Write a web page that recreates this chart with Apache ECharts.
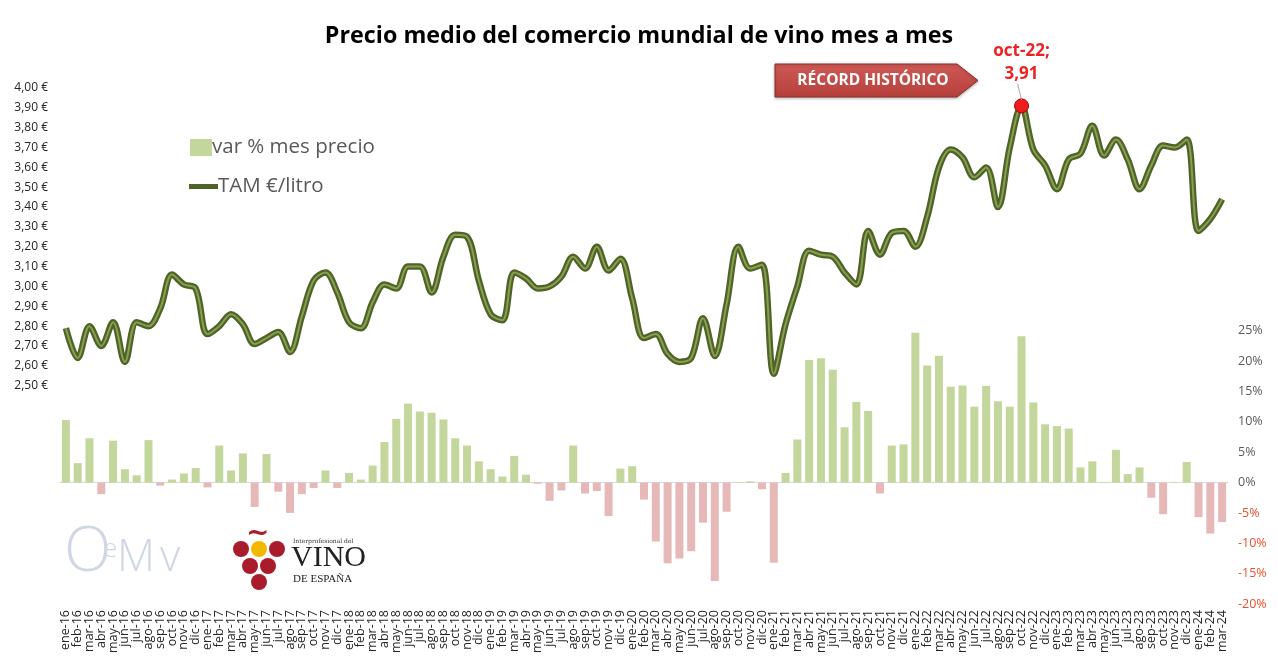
<!DOCTYPE html>
<html><head><meta charset="utf-8">
<script src="https://cdn.jsdelivr.net/npm/echarts@6/dist/echarts.min.js"></script>
<style>html,body{margin:0;padding:0;background:#fff}#c{width:1278px;height:662px}</style>
</head><body><div id="c"></div>
<script>
const categories = [
'ene-16','feb-16','mar-16','abr-16','may-16','jun-16','jul-16','ago-16','sep-16','oct-16','nov-16','dic-16',
'ene-17','feb-17','mar-17','abr-17','may-17','jun-17','jul-17','ago-17','sep-17','oct-17','nov-17','dic-17',
'ene-18','feb-18','mar-18','abr-18','may-18','jun-18','jul-18','ago-18','sep-18','oct-18','nov-18','dic-18',
'ene-19','feb-19','mar-19','abr-19','may-19','jun-19','jul-19','ago-19','sep-19','oct-19','nov-19','dic-19',
'ene-20','feb-20','mar-20','abr-20','may-20','jun-20','jul-20','ago-20','sep-20','oct-20','nov-20','dic-20',
'ene-21','feb-21','mar-21','abr-21','may-21','jun-21','jul-21','ago-21','sep-21','oct-21','nov-21','dic-21',
'ene-22','feb-22','mar-22','abr-22','may-22','jun-22','jul-22','ago-22','sep-22','oct-22','nov-22','dic-22',
'ene-23','feb-23','mar-23','abr-23','may-23','jun-23','jul-23','ago-23','sep-23','oct-23','nov-23','dic-23',
'ene-24','feb-24','mar-24'];

// TAM €/litro
const tamEuroLitro = [
2.79,2.64,2.80,2.70,2.82,2.62,2.82,2.80,2.89,3.06,3.01,2.99,
2.76,2.80,2.86,2.81,2.71,2.74,2.77,2.67,2.85,3.03,3.07,2.97,
2.82,2.79,2.92,3.01,2.99,3.10,3.10,2.97,3.15,3.26,3.25,3.03,
2.86,2.83,3.07,3.04,2.99,3.00,3.05,3.15,3.09,3.20,3.08,3.14,
2.94,2.74,2.76,2.66,2.62,2.64,2.84,2.65,2.91,3.20,3.09,3.11,
2.56,2.81,3.00,3.18,3.16,3.15,3.07,3.01,3.28,3.16,3.27,3.28,
3.20,3.35,3.60,3.69,3.65,3.55,3.60,3.40,3.70,3.91,3.69,3.61,
3.49,3.64,3.67,3.81,3.66,3.74,3.64,3.49,3.61,3.71,3.70,3.74,
3.28,3.34,3.44];

// var % mes precio
const varMesPrecio = [
10.3,3.2,7.3,-1.9,6.9,2.2,1.2,7.0,-0.5,0.5,1.5,2.4,
-0.8,6.1,2.0,4.8,-4.0,4.7,-1.5,-5.0,-1.9,-0.9,2.0,-0.9,
1.6,0.5,2.8,6.7,10.5,13.0,11.7,11.5,10.4,7.3,6.1,3.5,
2.2,1.0,4.4,1.3,-0.2,-3.0,-1.3,6.1,-1.8,-1.4,-5.5,2.3,
2.7,-2.8,-9.7,-13.3,-12.5,-11.3,-6.6,-16.2,-4.8,0.1,0.2,-1.1,
-13.2,1.6,7.1,20.2,20.5,18.6,9.1,13.3,11.8,-1.8,6.1,6.3,
24.7,19.3,20.9,15.8,16.0,12.5,15.9,13.4,12.5,24.1,13.2,9.6,
9.3,8.9,2.5,3.5,0.1,5.4,1.4,2.5,-2.5,-5.2,0.1,3.4,
-5.7,-8.4,-6.5];

const leftAxisMin = 1.4, leftAxisMax = 4.0, leftAxisStep = 0.1, leftAxisFirstLabel = 2.5;
const rightAxisMin = -20, rightAxisMax = 65, rightAxisStep = 5, rightAxisLastLabel = 25;

const FONT = "'Open Sans', 'Noto Sans', sans-serif";
const GREEN = '#c3d69b', PINK = '#e6b9b8', OLIVE = '#4f6228', OLIVE_IN = '#86a04e';
const recordIndex = tamEuroLitro.indexOf(Math.max.apply(null, tamEuroLitro));
const fmtEuro = v => v.toFixed(2).replace('.', ',');

const chart = echarts.init(document.getElementById('c'));
chart.setOption({
  backgroundColor: '#ffffff',
  animation: false,
  title: {
    text: 'Precio medio del comercio mundial de vino mes a mes',
    left: 'center', top: 20,
    textStyle: { fontFamily: FONT, fontSize: 23.3, fontWeight: 'bold', color: '#000' }
  },
  legend: [
    { data: [{ name: 'var % mes precio', icon: 'rect', itemStyle: { color: GREEN } }], left: 185, top: 132,
      itemWidth: 22, itemHeight: 17, itemGap: 4,
      textStyle: { fontFamily: FONT, fontSize: 20.5, color: '#595959', padding: [0,0,0,-5] } },
    { data: [{ name: 'TAM €/litro', icon: 'rect', itemStyle: { color: OLIVE } }], left: 184, top: 171,
      itemWidth: 29, itemHeight: 5,
      textStyle: { fontFamily: FONT, fontSize: 20.5, color: '#595959', padding: [0,0,0,-5] } }
  ],
  grid: { left: 60, right: 50, top: 88, bottom: 58 },
  xAxis: {
    type: 'category', data: categories, boundaryGap: true,
    axisLine: { show: true, lineStyle: { color: '#d9d9d9', width: 1 } },
    axisTick: { show: false },
    axisLabel: { interval: 0, rotate: 90, fontFamily: FONT, fontSize: 12.5, color: '#262626', margin: 6 }
  },
  yAxis: [
    { type: 'value', min: leftAxisMin, max: leftAxisMax, interval: leftAxisStep, position: 'left',
      axisLine: { show: false }, axisTick: { show: false }, splitLine: { show: false },
      axisLabel: { fontFamily: FONT, fontSize: 12, color: '#262626', margin: 12,
        formatter: v => v >= leftAxisFirstLabel - 0.001 ? fmtEuro(v) + ' €' : '' } },
    { type: 'value', min: rightAxisMin, max: rightAxisMax, interval: rightAxisStep, position: 'right',
      axisLine: { show: false }, axisTick: { show: false }, splitLine: { show: false },
      axisLabel: { fontFamily: FONT, fontSize: 12.5, margin: 10,
        formatter: v => v > rightAxisLastLabel + 0.001 ? '' : (v < 0 ? '{n|' + Math.round(v) + '%}' : '{p|' + Math.round(v) + '%}'),
        rich: { n: { color: '#e8502c', fontFamily: FONT, fontSize: 12.5 }, p: { color: '#595959', fontFamily: FONT, fontSize: 12.5 } } } }
  ],
  series: [
    { name: 'var % mes precio', type: 'bar', yAxisIndex: 1, data: varMesPrecio, barWidth: 8,
      itemStyle: { color: p => p.value >= 0 ? GREEN : PINK }, z: 1 },
    { name: 'TAM €/litro', type: 'line', yAxisIndex: 0, data: tamEuroLitro, smooth: 0.35,
      symbol: 'none', lineStyle: { color: OLIVE, width: 6.5 }, itemStyle: { color: OLIVE }, z: 3 },
    { name: 'TAM inner', type: 'line', yAxisIndex: 0, data: tamEuroLitro, smooth: 0.35, silent: true,
      symbol: 'none', lineStyle: { color: OLIVE_IN, width: 2 }, z: 4,
      markPoint: {
        symbol: 'circle', symbolSize: 14,
        itemStyle: { color: '#ee1c1c', borderColor: '#a80000', borderWidth: 1 },
        label: { show: true, position: 'top', distance: 13, color: '#ee2222', fontFamily: FONT,
          fontWeight: 'bold', fontSize: 17, lineHeight: 23,
          formatter: () => categories[recordIndex] + ';\n' + fmtEuro(tamEuroLitro[recordIndex]) },
        data: [{ coord: [categories[recordIndex], tamEuroLitro[recordIndex]], value: tamEuroLitro[recordIndex] }]
      } }
  ],
  graphic: [
    { id: 'arrow', type: 'polygon', shape: { points: [[775,64],[957,64],[978,80.5],[957,97],[775,97]] },
      style: { fill: new echarts.graphic.LinearGradient(0,0,0,1,[{offset:0,color:'#cf5a55'},{offset:1,color:'#b5403b'}]),
        stroke: '#8e2f2b', lineWidth: 1, shadowBlur: 3, shadowColor: 'rgba(0,0,0,0.3)', shadowOffsetY: 1 }, z: 20 },
    { id: 'arrowText', type: 'text', x: 873, y: 81, z: 21,
      style: { text: 'RÉCORD HISTÓRICO', fill: '#ffffff', align: 'center', verticalAlign: 'middle',
        font: "bold 15.5px 'Open Sans', sans-serif" } },
    // OeMv logo
    { id: 'l1', type: 'text', x: 64, y: 522, style: { text: 'O', fill: '#cfd7e4', font: "300 62px 'Open Sans', sans-serif" } },
    { id: 'l2', type: 'text', x: 103, y: 537, style: { text: 'e', fill: '#cfd7e4', font: "300 26px 'Open Sans', sans-serif" } },
    { id: 'l3', type: 'text', x: 117, y: 536, style: { text: 'M', fill: '#cfd7e4', font: "300 44px 'Open Sans', sans-serif" } },
    { id: 'l4', type: 'text', x: 160, y: 536, style: { text: 'v', fill: '#cfd7e4', font: "300 44px 'Open Sans', sans-serif" } },
    // Vino de España logo
    { id: 'v0', type: 'text', x: 246, y: 520, style: { text: '~', fill: '#a81c2c', font: "bold 28px 'DejaVu Serif', serif" } },
    { id: 'g1', type: 'circle', shape: { cx: 241, cy: 549, r: 8 }, style: { fill: '#a81c2c' } },
    { id: 'g2', type: 'circle', shape: { cx: 259, cy: 549, r: 8 }, style: { fill: '#f5b800' } },
    { id: 'g3', type: 'circle', shape: { cx: 277, cy: 549, r: 8 }, style: { fill: '#a81c2c' } },
    { id: 'g4', type: 'circle', shape: { cx: 250, cy: 566, r: 8 }, style: { fill: '#a81c2c' } },
    { id: 'g5', type: 'circle', shape: { cx: 268, cy: 566, r: 8 }, style: { fill: '#a81c2c' } },
    { id: 'g6', type: 'circle', shape: { cx: 259, cy: 582, r: 8 }, style: { fill: '#a81c2c' } },
    { id: 'v1', type: 'text', x: 293, y: 538, style: { text: 'Interprofesional del', fill: '#333', font: "6px 'DejaVu Serif', serif" } },
    { id: 'v2', type: 'text', x: 291, y: 543, style: { text: 'VINO', fill: '#222', font: "30px 'Liberation Serif', serif" } },
    { id: 'v3', type: 'text', x: 293, y: 574, style: { text: 'DE ESPAÑA', fill: '#222', font: "11px 'Liberation Serif', serif" } }
  ]
});

const px = chart.convertToPixel({ xAxisIndex: 0, yAxisIndex: 0 }, [categories[recordIndex], tamEuroLitro[recordIndex]]);
chart.setOption({ graphic: [
  { id: 'leader', type: 'line', shape: { x1: px[0] - 4, y1: px[1] - 22, x2: px[0], y2: px[1] - 6 },
    style: { stroke: '#a6a6a6', lineWidth: 1 }, z: 10 }
] });
</script></body></html>
